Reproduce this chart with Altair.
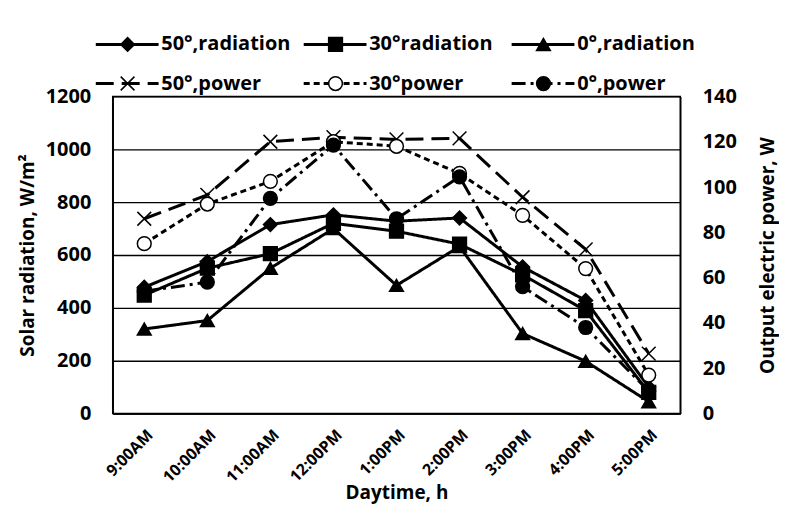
import altair as alt
import pandas as pd

# ---------------- data ----------------
times = ["9:00AM", "10:00AM", "11:00AM", "12:00PM", "1:00PM",
         "2:00PM", "3:00PM", "4:00PM", "5:00PM"]

rad_names = ["50°,radiation", "30°radiation", "0°,radiation"]
pow_names = ["50°,power", "30°power", "0°,power"]

rad50 = [478, 575, 715, 752, 728, 740, 555, 428, 100]
rad30 = [448, 550, 605, 720, 690, 641, 525, 390, 80]
rad0 = [320, 352, 550, 700, 485, 632, 303, 198, 45]

pow50 = [86, 96.5, 120, 122, 121, 121.5, 95.5, 72.5, 26.5]
pow30 = [75, 92.5, 102.5, 120, 118, 106, 87.5, 64, 17]
pow0 = [54, 58, 95, 118.5, 86, 104.5, 56, 38, 10]

legend_col = [0, 1, 2, 0, 1, 2]
legend_row = [0, 0, 0, 1, 1, 1]

# ---------------- tables ----------------
def long_table(names, series):
    rows = []
    for name, vals in zip(names, series):
        for t, v in zip(times, vals):
            rows.append({"time": t, "series": name, "value": v})
    return pd.DataFrame(rows)

rad_df = long_table(rad_names, [rad50, rad30, rad0])
pow_df = long_table(pow_names, [pow50, pow30, pow0])
all_names = rad_names + pow_names
leg_df = pd.DataFrame({"series": all_names, "col": legend_col, "row": legend_row})

# ---------------- shared styling scales ----------------
XPATH = "M-1,-1L1,1M-1,1L1,-1"
shape_sc = alt.Scale(domain=all_names,
                     range=["diamond", "square", "triangle-up", XPATH, "circle", "circle"])
fill_sc = alt.Scale(domain=all_names,
                    range=["black", "black", "black", "black", "white", "black"])
size_sc = alt.Scale(domain=all_names, range=[190, 190, 190, 220, 165, 115])
dash_sc = alt.Scale(domain=all_names,
                    range=[[1, 0], [1, 0], [1, 0], [18, 8], [6, 4], [14, 5, 3, 5]])
width_sc = alt.Scale(domain=all_names, range=[3, 3, 3, 3.5, 2, 2])

FONT = "Open Sans"
W, H = 569, 318

x_enc = alt.X("time:N", sort=times, title="Daytime, h",
              axis=alt.Axis(labelAngle=-45, labelAlign="right", labelBaseline="top",
                            labelFontSize=16, labelPadding=13, ticks=False,
                            titleY=70, titleBaseline="top", grid=False))

def line_layer(df):
    return alt.Chart(df).mark_line(color="black").encode(
        x=x_enc,
        y=alt.Y("value:Q"),
        detail="series:N",
        strokeDash=alt.StrokeDash("series:N", scale=dash_sc, legend=None),
        strokeWidth=alt.StrokeWidth("series:N", scale=width_sc, legend=None),
    )

def point_layer(df):
    return alt.Chart(df).mark_point(filled=True, stroke="black", strokeWidth=1.5,
                                    opacity=1).encode(
        x=x_enc,
        y=alt.Y("value:Q"),
        shape=alt.Shape("series:N", scale=shape_sc, legend=None),
        fill=alt.Fill("series:N", scale=fill_sc, legend=None),
        size=alt.Size("series:N", scale=size_sc, legend=None),
    )

rad_y = alt.Y("value:Q", title="Solar radiation, W/m²",
              scale=alt.Scale(domain=[0, 1200], nice=False),
              axis=alt.Axis(values=[0, 200, 400, 600, 800, 1000, 1200], grid=True,
                            format="d", ticks=False, labelPadding=22, titlePadding=8,
                            orient="left"))
pow_y = alt.Y("value:Q", title="Output electric power, W",
              scale=alt.Scale(domain=[0, 140], nice=False),
              axis=alt.Axis(values=[0, 20, 40, 60, 80, 100, 120, 140], grid=False,
                            format="d", ticks=False, labelPadding=22, titlePadding=22,
                            orient="right", titleAngle=270, titleBaseline="top"))

rad_layer = alt.layer(line_layer(rad_df).encode(y=rad_y),
                      point_layer(rad_df).encode(y=rad_y))
pow_layer = alt.layer(line_layer(pow_df).encode(y=pow_y),
                      point_layer(pow_df).encode(y=pow_y))

main = alt.layer(rad_layer, pow_layer).resolve_scale(y="independent").properties(
    width=W, height=H)

# ---------------- legend panel ----------------
lx = alt.Scale(domain=[0.0815, 2.811], nice=False, zero=False)
ly = alt.Scale(domain=[-0.38, 1.33], reverse=True, nice=False, zero=False)

leg_base = alt.Chart(leg_df).transform_calculate(
    x0="datum.col", x1="datum.col + 0.302",
    xm="datum.col + 0.153", xt="datum.col + 0.315")

leg_rule = leg_base.mark_rule(color="black").encode(
    x=alt.X("x0:Q", scale=lx, axis=None),
    x2="x1:Q",
    y=alt.Y("row:Q", scale=ly, axis=None),
    strokeDash=alt.StrokeDash("series:N", scale=dash_sc, legend=None),
    strokeWidth=alt.StrokeWidth("series:N", scale=width_sc, legend=None),
)
leg_pt = leg_base.mark_point(filled=True, stroke="black", strokeWidth=1.5,
                             opacity=1).encode(
    x=alt.X("xm:Q", scale=lx, axis=None),
    y=alt.Y("row:Q", scale=ly, axis=None),
    shape=alt.Shape("series:N", scale=shape_sc, legend=None),
    fill=alt.Fill("series:N", scale=fill_sc, legend=None),
    size=alt.Size("series:N", scale=size_sc, legend=None),
)
leg_txt = leg_base.mark_text(align="left", baseline="middle", font=FONT,
                             fontWeight="bold", fontSize=20, color="black").encode(
    x=alt.X("xt:Q", scale=lx, axis=None),
    y=alt.Y("row:Q", scale=ly, axis=None),
    text="series:N",
)
legend = alt.layer(leg_rule, leg_pt, leg_txt).properties(
    width=W, height=67, view=alt.ViewBackground(stroke="transparent"))

chart = alt.vconcat(legend, main, spacing=0, bounds="flush").resolve_scale(
    x="independent", y="independent"
).properties(
    padding={"left": 9, "top": 20, "right": 0, "bottom": 0},
    background="white",
).configure_view(
    stroke="black", strokeWidth=1.5
).configure_axis(
    labelFont=FONT, labelFontWeight="bold", labelFontSize=20, labelColor="black",
    titleFont=FONT, titleFontWeight="bold", titleFontSize=19, titleColor="black",
    domainColor="black", domainWidth=1.5, gridColor="black", gridWidth=1.3,
    gridOpacity=1,
)

chart.save("out.html", embed_options={"renderer": "svg", "actions": False})
